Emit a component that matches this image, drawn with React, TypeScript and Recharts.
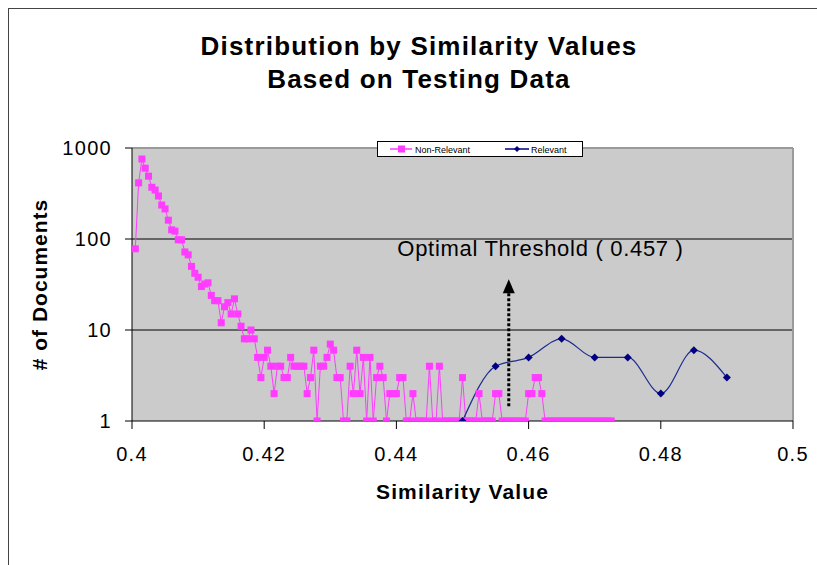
import React from 'react';
import { LineChart, Line, XAxis, YAxis, ReferenceLine, ReferenceDot, CartesianGrid, Label } from 'recharts';

// similarity values (x) and number of documents (y) for the non-relevant set
const nonRelevantSim = [
  0.4005, 0.401, 0.4015, 0.402, 0.4025, 0.403, 0.4035, 0.404, 0.4045, 0.405,
  0.4055, 0.406, 0.4065, 0.407, 0.4075, 0.408, 0.4085, 0.409, 0.4095, 0.41,
  0.4105, 0.411, 0.4115, 0.412, 0.4125, 0.413, 0.4135, 0.414, 0.4145, 0.415,
  0.4155, 0.416, 0.4165, 0.417, 0.4175, 0.418, 0.4185, 0.419, 0.4195, 0.42,
  0.4205, 0.421, 0.4215, 0.422, 0.4225, 0.423, 0.4235, 0.424, 0.4245, 0.425,
  0.4255, 0.426, 0.4265, 0.427, 0.4275, 0.428, 0.4285, 0.429, 0.4295, 0.43,
  0.4305, 0.431, 0.4315, 0.432, 0.4325, 0.433, 0.4335, 0.434, 0.4345, 0.435,
  0.4355, 0.436, 0.4365, 0.437, 0.4375, 0.438, 0.4385, 0.439, 0.4395, 0.44,
  0.4405, 0.441, 0.4415, 0.442, 0.4425, 0.443, 0.4435, 0.444, 0.4445, 0.445,
  0.4455, 0.446, 0.4465, 0.447, 0.4475, 0.448, 0.4485, 0.449, 0.4495, 0.45,
  0.4505, 0.451, 0.4515, 0.452, 0.4525, 0.453, 0.4535, 0.454, 0.4545, 0.455,
  0.4555, 0.456, 0.4565, 0.457, 0.4575, 0.458, 0.4585, 0.459, 0.4595, 0.46,
  0.4605, 0.461, 0.4615, 0.462, 0.4625, 0.463, 0.4635, 0.464, 0.4645, 0.465,
  0.4655, 0.466, 0.4665, 0.467, 0.4675, 0.468, 0.4685, 0.469, 0.4695, 0.47,
  0.4705, 0.471, 0.4715, 0.472, 0.4725,
];
const nonRelevantDocs = [
  78, 414, 757, 600, 490, 370, 345, 297, 236, 214,
  161, 126, 122, 98, 98, 72, 67, 50, 42, 38,
  30, 32, 33, 24, 21, 21, 12, 18, 20, 15,
  22, 15, 11, 8, 8, 10, 8, 5, 3, 5,
  6, 4, 2, 4, 4, 3, 3, 5, 4, 4,
  4, 4, 2, 3, 6, 1, 4, 4, 5, 7,
  6, 3, 3, 1, 1, 4, 2, 6, 2, 5,
  1, 5, 1, 3, 4, 3, 1, 2, 2, 2,
  3, 3, 1, 1, 2, 1, 1, 1, 1, 4,
  1, 1, 4, 1, 1, 1, 1, 1, 1, 3,
  1, 1, 1, 1, 2, 1, 1, 1, 1, 2,
  2, 1, 1, 1, 1, 1, 1, 1, 1, 2,
  2, 3, 3, 2, 1, 1, 1, 1, 1, 1,
  1, 1, 1, 1, 1, 1, 1, 1, 1, 1,
  1, 1, 1, 1, 1,
];

// relevant set
const relevantSim = [0.45, 0.455, 0.46, 0.465, 0.47, 0.475, 0.48, 0.485, 0.49];
const relevantDocs = [1, 4, 5, 8, 5, 5, 2, 6, 3];

const xTicks = [0.4, 0.42, 0.44, 0.46, 0.48, 0.5];
const yTicks = [1, 10, 100, 1000];

const threshold = 0.457;

const nonRelevantData = nonRelevantSim.map((x, i) => ({ x, y: nonRelevantDocs[i] }));
const relevantData = relevantSim.map((x, i) => ({ x, y: relevantDocs[i] }));

const FONT = '"Liberation Sans", Arial, Helvetica, sans-serif';
const PINK = '#ff3cff';
const NAVY = '#000080';

const squareDot = (props: any) => {
  const { cx, cy, index } = props;
  if (cx == null || cy == null) return <g key={`nr-${index}`} />;
  return <rect key={`nr-${index}`} x={cx - 3.5} y={cy - 3.5} width={7} height={7} fill={PINK} />;
};

const diamondDot = (props: any) => {
  const { cx, cy, index } = props;
  if (cx == null || cy == null) return <g key={`r-${index}`} />;
  return (
    <polygon
      key={`r-${index}`}
      points={`${cx},${cy - 4} ${cx + 4},${cy} ${cx},${cy + 4} ${cx - 4},${cy}`}
      fill={NAVY}
    />
  );
};

const arrowHead = (props: any) => {
  const { cx, cy } = props;
  return <polygon points={`${cx},${cy - 13} ${cx + 6},${cy + 1} ${cx - 6},${cy + 1}`} fill="#000" />;
};

const thresholdText = (props: any) => {
  const { cx, cy } = props;
  return (
    <text x={cx} y={cy} textAnchor="middle" fontFamily={FONT} fontSize={22} letterSpacing={0.7} fill="#000">
      Optimal Threshold ( {threshold} )
    </text>
  );
};

const yLabel = (props: any) => {
  const { viewBox } = props;
  const x = viewBox.x + 30;
  const y = viewBox.y + viewBox.height / 2;
  return (
    <text
      x={x}
      y={y}
      transform={`rotate(-90, ${x}, ${y})`}
      textAnchor="middle"
      dominantBaseline="central"
      fontFamily={FONT}
      fontWeight="bold"
      fontSize={21}
      letterSpacing={1}
      fill="#000"
    >
      # of Documents
    </text>
  );
};

const tickStyle = { fontFamily: FONT, fontSize: 20, fill: '#000', letterSpacing: 1.3 };

export default function App() {
  return (
    <div
      style={{
        position: 'fixed',
        left: 8,
        top: 8,
        width: 808,
        height: 556,
        borderTop: '1px solid #444',
        borderLeft: '1px solid #444',
        background: '#fff',
        fontFamily: FONT,
      }}
    >
      <div
        style={{
          position: 'absolute',
          left: 110,
          top: 21,
          width: 600,
          textAlign: 'center',
          fontWeight: 'bold',
          fontSize: 26,
          letterSpacing: 1.2,
          lineHeight: '33px',
          color: '#000',
        }}
      >
        Distribution by Similarity Values
        <br />
        Based on Testing Data
      </div>

      <LineChart width={808} height={556} margin={{ top: 139, right: 24, bottom: 64, left: 0 }}>
        <CartesianGrid fill="#cbcbcb" horizontal={false} vertical={false} />
        <ReferenceLine y={10} stroke="#000" strokeWidth={1} />
        <ReferenceLine y={100} stroke="#000" strokeWidth={1} />
        <ReferenceLine y={1000} stroke="#9a9a9a" strokeWidth={2} />
        <ReferenceLine x={0.5} stroke="#9a9a9a" strokeWidth={2} />
        <XAxis
          dataKey="x"
          type="number"
          domain={[0.4, 0.5]}
          ticks={xTicks}
          allowDataOverflow
          height={80}
          stroke="#000"
          tickSize={8}
          tickMargin={18}
          tick={tickStyle}
          tickFormatter={(v: number) => String(Number(v.toFixed(2)))}
        >
          <Label
            value="Similarity Value"
            position="insideBottom"
            offset={2}
            style={{ fontFamily: FONT, fontWeight: 'bold', fontSize: 21, letterSpacing: 1.1, fill: '#000' }}
          />
        </XAxis>
        <YAxis
          dataKey="y"
          type="number"
          scale="log"
          domain={[1, 1000]}
          ticks={yTicks}
          allowDataOverflow
          width={123}
          stroke="#000"
          tickSize={7}
          tickMargin={13}
          tick={tickStyle}
        >
          <Label content={yLabel} />
        </YAxis>
        <Line
          data={nonRelevantData}
          dataKey="y"
          type="linear"
          stroke={PINK}
          strokeWidth={1}
          dot={squareDot}
          activeDot={false}
          isAnimationActive={false}
        />
        <Line
          data={relevantData}
          dataKey="y"
          type="monotone"
          stroke="#1c2b8f"
          strokeWidth={1.2}
          dot={diamondDot}
          activeDot={false}
          isAnimationActive={false}
        />
        <ReferenceLine
          segment={[{ x: threshold, y: 1.45 }, { x: threshold, y: 26 }]}
          stroke="#000"
          strokeWidth={3}
          strokeDasharray="3 2"
        />
        <ReferenceDot x={threshold} y={26} shape={arrowHead} />
        <ReferenceDot x={0.4618} y={65} shape={thresholdText} />
      </LineChart>

      <div
        style={{
          position: 'absolute',
          left: 368,
          top: 132,
          width: 204,
          height: 14,
          border: '1px solid #000',
          background: '#fff',
          fontSize: 9,
        }}
      >
        <svg width={204} height={14} style={{ display: 'block' }}>
          <line x1={12} y1={7} x2={34} y2={7} stroke={PINK} strokeWidth={1.5} />
          <rect x={20} y={3.5} width={7} height={7} fill={PINK} />
          <text x={37} y={10.5} fontFamily={FONT} fontSize={9} fill="#000">Non-Relevant</text>
          <line x1={127} y1={7} x2={151} y2={7} stroke={NAVY} strokeWidth={1.5} />
          <polygon points="139,4 142,7 139,10 136,7" fill={NAVY} />
          <text x={153} y={10.5} fontFamily={FONT} fontSize={9} fill="#000">Relevant</text>
        </svg>
      </div>
    </div>
  );
}
